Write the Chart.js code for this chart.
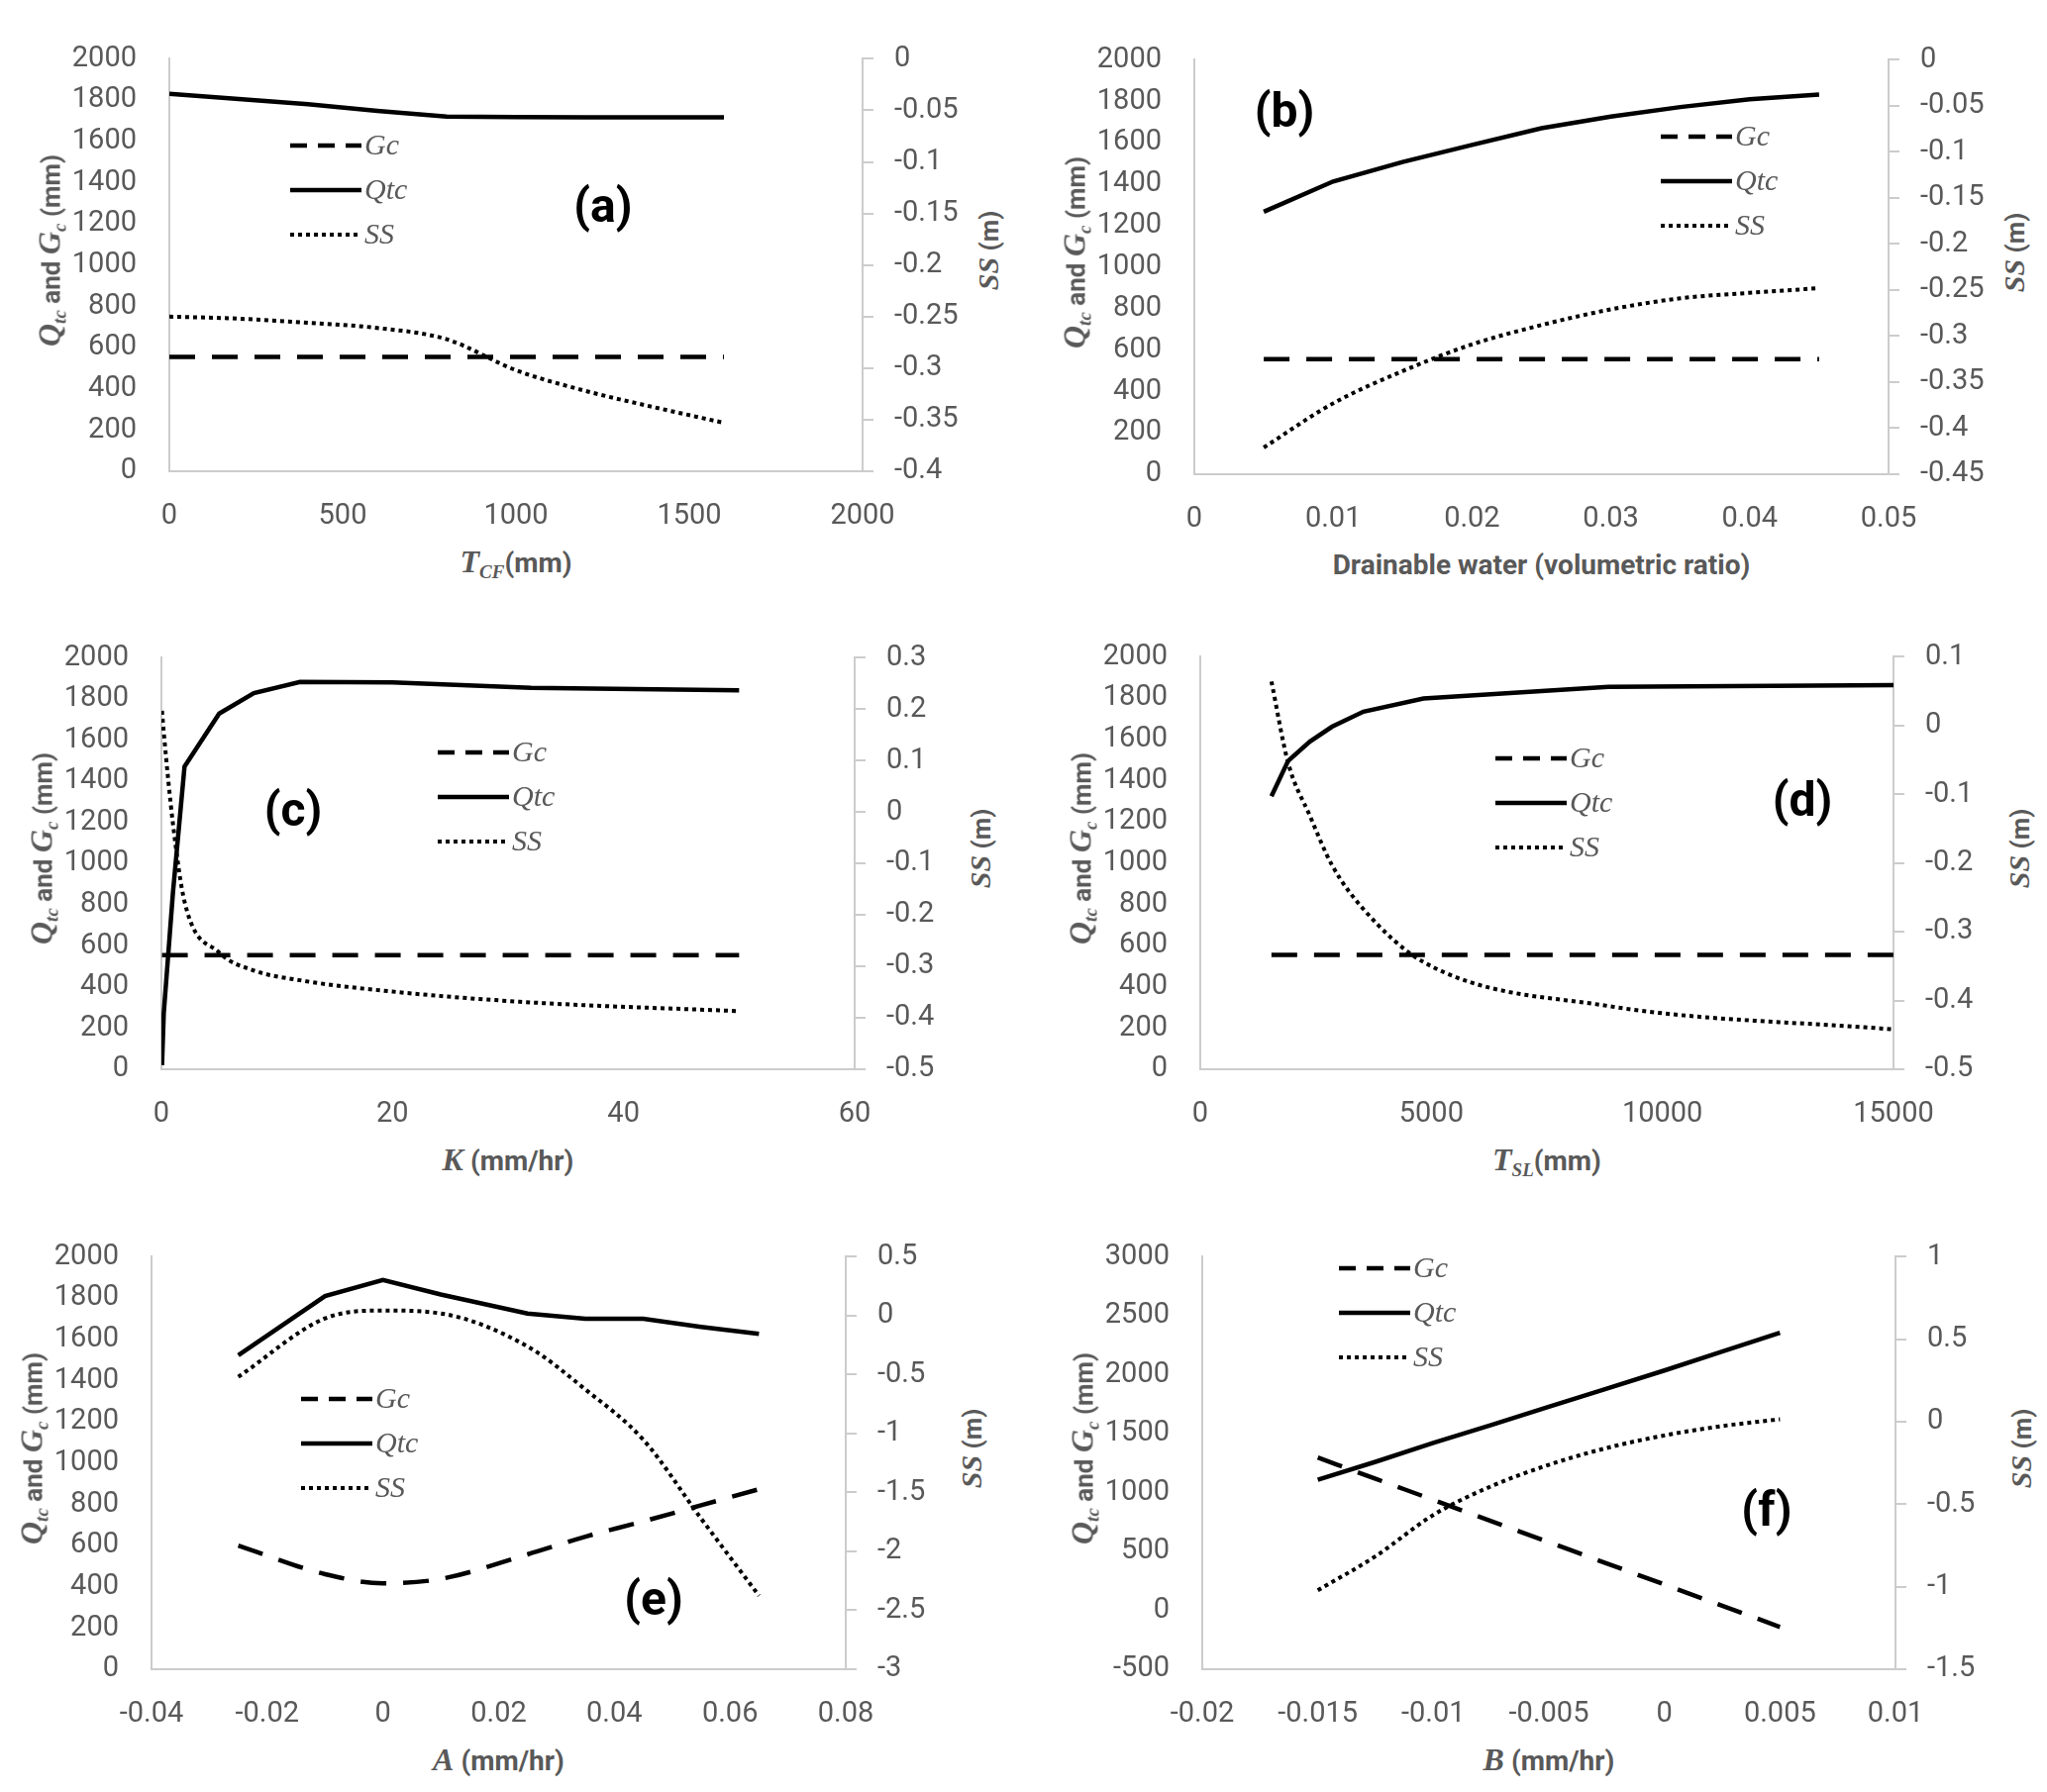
<!DOCTYPE html>
<html>
<head>
<meta charset="utf-8">
<script src="https://cdn.jsdelivr.net/npm/chart.js@4.4.0/dist/chart.umd.min.js"></script>
<style>
  body { margin: 0; background: #fff; width: 2067px; height: 1810px; position: relative; overflow: hidden; font-family: Roboto, sans-serif; }
  canvas { position: absolute; }
  .t { position: absolute; color: #595959; font-weight: bold; font-size: 28px; white-space: nowrap; transform: translate(-50%, -50%); }
  .t.r { transform: translate(-50%, -50%) rotate(-90deg); font-size: 26px; }
  .v { font-family: "Liberation Serif", serif; font-style: italic; font-size: 32px; }
  .t sub { font-size: 19px; vertical-align: -6px; line-height: 0; }
  .lab { position: absolute; font-weight: bold; font-size: 48px; color: #000; transform: translate(-50%, -50%); }
</style>
</head>
<body>
<script>
// (a) T_CF
var aX   = [0, 200, 400, 600, 800, 1000, 1200, 1400, 1600];
var aQtc = [1830, 1805, 1780, 1748, 1720, 1717, 1716, 1716, 1716];
var aGc  = [555, 555, 555, 555, 555, 555, 555, 555, 555];
var aSS  = [-0.25, -0.252, -0.256, -0.261, -0.272, -0.302, -0.322, -0.338, -0.353];

// (b) drainable water
var bX   = [0.005, 0.01, 0.015, 0.02, 0.025, 0.03, 0.035, 0.04, 0.045];
var bQtc = [1267, 1413, 1507, 1589, 1670, 1726, 1772, 1810, 1832];
var bGc  = [555, 555, 555, 555, 555, 555, 555, 555, 555];
var bSS  = [-0.421, -0.373, -0.338, -0.309, -0.288, -0.271, -0.259, -0.253, -0.248];

// (c) K
var cX   = [0.05, 0.2, 1, 2, 5, 8, 12, 20, 32, 50];
var cQtc = [20, 270, 860, 1471, 1729, 1828, 1883, 1880, 1854, 1842];
var cGc  = [555, 555, 555, 555, 555, 555, 555, 555, 555, 555];
var cSS  = [0.197, 0.156, -0.023, -0.174, -0.273, -0.308, -0.327, -0.349, -0.37, -0.387];

// (d) T_SL
var dX   = [1540, 1900, 2370, 2850, 3530, 4830, 8830, 15000];
var dQtc = [1324, 1495, 1589, 1661, 1734, 1798, 1854, 1863];
var dGc  = [555, 555, 555, 555, 555, 555, 555, 555];
var dSS  = [0.064, -0.054, -0.131, -0.203, -0.267, -0.344, -0.408, -0.442];

// (e) A
var eX   = [-0.025, -0.01, 0, 0.01, 0.025, 0.035, 0.045, 0.055, 0.065];
var eQtc = [1522, 1809, 1887, 1817, 1725, 1699, 1699, 1660, 1626];
var eGc  = [600, 461, 417, 438, 557, 643, 717, 795, 873];
var eSS  = [-0.519, -0.023, 0.044, 0.019, -0.261, -0.626, -1.052, -1.721, -2.376];

// (f) B
var fX   = [-0.015, -0.0125, -0.01, -0.0075, -0.005, -0.0025, 0, 0.0025, 0.005];
var fQtc = [1107, 1260, 1420, 1572, 1728, 1880, 2035, 2195, 2355];
var fGc  = [1296, 1116, 937, 757, 578, 398, 219, 39, -141];
var fSS  = [-1.022, -0.815, -0.565, -0.391, -0.261, -0.159, -0.083, -0.026, 0.015];

// axis ranges [min, max, step]
var aXr = [0, 2000, 500],      aYr = [0, 2000, 200],  aY2r = [-0.4, 0, 0.05];
var bXr = [0, 0.05, 0.01],     bYr = [0, 2000, 200],  bY2r = [-0.45, 0, 0.05];
var cXr = [0, 60, 20],         cYr = [0, 2000, 200],  cY2r = [-0.5, 0.3, 0.1];
var dXr = [0, 15000, 5000],    dYr = [0, 2000, 200],  dY2r = [-0.5, 0.1, 0.1];
var eXr = [-0.04, 0.08, 0.02], eYr = [0, 2000, 200],  eY2r = [-3, 0.5, 0.5];
var fXr = [-0.02, 0.01, 0.005], fYr = [-500, 3000, 500], fY2r = [-1.5, 1, 0.5];

var seriesNames = ['Gc', 'Qtc', 'SS'];

var GREY = '#595959', AXIS = '#cccccc';
var GC_DASH = [26, 17], SS_DASH = [4, 4];

function fmt(v) { return String(+Number(v).toFixed(6)); }
function pts(xs, ys) { return xs.map(function (x, i) { return { x: x, y: ys[i] }; }); }

// legend drawn inside the plot, like the excel one
var inLegend = {
  id: 'inLegend',
  afterDatasetsDraw: function (chart, args, o) {
    var ctx = chart.ctx;
    ctx.save();
    chart.data.datasets.forEach(function (ds, i) {
      var y = o.y + i * o.dy;
      var dash = ds.borderDash || [];
      if (dash.length && dash[0] > 6) dash = [17, 11];
      ctx.beginPath();
      ctx.setLineDash(dash);
      ctx.lineWidth = ds.borderWidth;
      ctx.strokeStyle = '#000';
      ctx.moveTo(o.x, y);
      ctx.lineTo(o.x + o.len, y);
      ctx.stroke();
      ctx.setLineDash([]);
      ctx.fillStyle = GREY;
      ctx.font = 'italic 30px "Liberation Serif"';
      ctx.textBaseline = 'middle';
      ctx.fillText(ds.label, o.x + o.len + 3, y + 1);
    });
    ctx.restore();
  }
};

function addText(cls, x, y, html) {
  var d = document.createElement('div');
  d.className = cls;
  d.style.left = x + 'px';
  d.style.top = y + 'px';
  d.innerHTML = html;
  document.body.appendChild(d);
}

function panel(p) {
  var left = p.L - 150, top = p.T - 20;
  var w = p.R - p.L + 260, h = p.B - p.T + 90;
  var cv = document.createElement('canvas');
  cv.width = w; cv.height = h;
  cv.style.left = left + 'px'; cv.style.top = top + 'px';
  document.body.appendChild(cv);

  var base = { showLine: true, pointRadius: 0, borderColor: '#000', backgroundColor: '#000', borderWidth: 4.5, fill: false, tension: 0 };
  var ys = [p.gc, p.qtc, p.ss];
  var datasets = seriesNames.map(function (name, i) {
    var ds = Object.assign({}, base, { label: name, data: pts(p.x, ys[i]), yAxisID: i === 2 ? 'y1' : 'y' });
    if (i === 0) { ds.borderDash = GC_DASH; ds.cubicInterpolationMode = 'monotone'; }
    if (i === 2) { ds.borderDash = SS_DASH; ds.borderWidth = 4; ds.cubicInterpolationMode = 'monotone'; }
    return ds;
  });

  var tickFont = { family: 'Roboto', size: 29 };
  new Chart(cv, {
    type: 'scatter',
    data: { datasets: datasets },
    plugins: [inLegend],
    options: {
      responsive: false,
      animation: false,
      devicePixelRatio: 1,
      layout: { padding: { top: 20, left: 0, right: 0, bottom: 0 } },
      plugins: {
        legend: { display: false },
        tooltip: { enabled: false },
        inLegend: { x: p.lg[0] - left, y: p.lg[1] - top, dy: 45, len: 72 }
      },
      scales: {
        x: {
          type: 'linear', position: 'bottom', min: p.xr[0], max: p.xr[1],
          ticks: { stepSize: p.xr[2], callback: fmt, autoSkip: false, maxRotation: 0, color: GREY, font: tickFont, padding: 28 },
          grid: { display: false, drawTicks: false },
          border: { display: true, color: AXIS, width: 2 },
          afterFit: function (s) { s.height = 70; }
        },
        y: {
          type: 'linear', position: 'left', min: p.yr[0], max: p.yr[1],
          ticks: { stepSize: p.yr[2], callback: fmt, autoSkip: false, color: GREY, font: tickFont, padding: 33 },
          grid: { display: false, drawTicks: false },
          border: { display: true, color: AXIS, width: 2 },
          afterFit: function (s) { s.width = 150; }
        },
        y1: {
          type: 'linear', position: 'right', min: p.y2r[0], max: p.y2r[1],
          ticks: { stepSize: p.y2r[2], callback: fmt, autoSkip: false, color: GREY, font: tickFont, padding: 21 },
          grid: { drawOnChartArea: false, drawTicks: true, tickLength: 11, color: AXIS, lineWidth: 2 },
          border: { display: true, color: AXIS, width: 2 },
          afterFit: function (s) { s.width = 110; }
        }
      }
    }
  });

  var cy = (p.T + p.B) / 2;
  addText('t r', p.L - 121, cy, '<span class="v" style="font-weight:bold">Q</span><sub class="v" style="font-weight:bold;font-size:19px">tc</sub> and <span class="v" style="font-weight:bold">G</span><sub class="v" style="font-weight:bold;font-size:19px">c</sub> (mm)');
  addText('t r', p.R + 127, cy, '<span class="v" style="font-weight:bold;font-size:30px">SS</span> (m)');
  addText('t', (p.L + p.R) / 2, p.B + 91, p.xt);
  addText('lab', p.lab[0], p.lab[1], p.name);
}

panel({ name: '(a)', L: 171, R: 871, T: 29, B: 476, x: aX, qtc: aQtc, gc: aGc, ss: aSS, xr: aXr, yr: aYr, y2r: aY2r,
  lg: [293, 147], lab: [609, 207], xt: '<span class="v">T</span><sub class="v">CF</sub>(mm)' });
panel({ name: '(b)', L: 1206, R: 1907, T: 30, B: 479, x: bX, qtc: bQtc, gc: bGc, ss: bSS, xr: bXr, yr: bYr, y2r: bY2r,
  lg: [1677, 138], lab: [1297, 111], xt: 'Drainable water (volumetric ratio)' });
panel({ name: '(c)', L: 163, R: 863, T: 634, B: 1080, x: cX, qtc: cQtc, gc: cGc, ss: cSS, xr: cXr, yr: cYr, y2r: cY2r,
  lg: [442, 760], lab: [296, 817], xt: '<span class="v">K</span> (mm/hr)' });
panel({ name: '(d)', L: 1212, R: 1912, T: 633, B: 1080, x: dX, qtc: dQtc, gc: dGc, ss: dSS, xr: dXr, yr: dYr, y2r: dY2r,
  lg: [1510, 766], lab: [1820, 807], xt: '<span class="v">T</span><sub class="v">SL</sub>(mm)' });
panel({ name: '(e)', L: 153, R: 854, T: 1239, B: 1686, x: eX, qtc: eQtc, gc: eGc, ss: eSS, xr: eXr, yr: eYr, y2r: eY2r,
  lg: [304, 1413], lab: [660, 1614], xt: '<span class="v">A</span> (mm/hr)' });
panel({ name: '(f)', L: 1214, R: 1914, T: 1239, B: 1686, x: fX, qtc: fQtc, gc: fGc, ss: fSS, xr: fXr, yr: fYr, y2r: fY2r,
  lg: [1352, 1281], lab: [1784, 1524], xt: '<span class="v">B</span> (mm/hr)' });
</script>
</body>
</html>
